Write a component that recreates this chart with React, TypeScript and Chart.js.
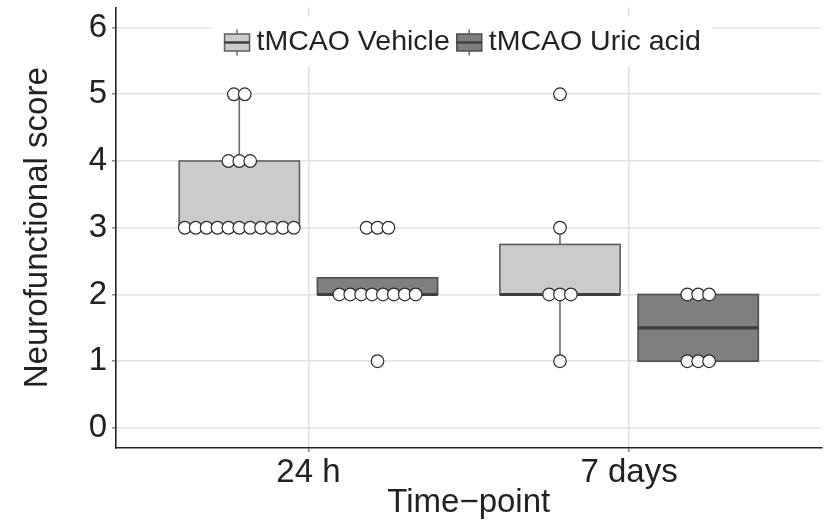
import React, { useEffect, useRef } from "react";
import { Chart, registerables } from "chart.js";

Chart.register(...registerables);

// ---- data ----
const categories = ["24 h", "7 days"];
const groupNames = ["tMCAO Vehicle", "tMCAO Uric acid"];
const yTickValues = [0, 1, 2, 3, 4, 5, 6];

const vehicle24h = [5, 5, 4, 4, 4, 3, 3, 3, 3, 3, 3, 3, 3, 3, 3, 3];
const uric24h = [3, 3, 3, 2, 2, 2, 2, 2, 2, 2, 2, 1];
const vehicle7d = [5, 3, 2, 2, 2, 1];
const uric7d = [2, 2, 2, 1, 1, 1];

const vehicleSeries = [vehicle24h, vehicle7d];
const uricSeries = [uric24h, uric7d];

// ---- styles / layout ----
const FONT = "'Liberation Sans', Arial, Helvetica, sans-serif";
const AXIS_FONT_SIZE = 33;
const LEGEND_FONT_SIZE = 28.5;
const GROUP_OFFSET = 0.2155;
const BOX_HALF = 0.1875;
const DOT_STEP = 0.034;
const boxFill = ["#cbcbcb", "#7f7f80"];
const boxStroke = ["#5e5e5e", "#4e4e4e"];
const medianColor = "#3f3f3f";
const whiskerColor = "#6a6a6a";

function quantile(sorted: number[], p: number) {
  const h = (sorted.length - 1) * p;
  const lo = Math.floor(h);
  const hi = Math.ceil(h);
  return sorted[lo] + (h - lo) * (sorted[hi] - sorted[lo]);
}

function boxStats(values: number[]) {
  const s = [...values].sort((a, b) => a - b);
  const q1 = quantile(s, 0.25);
  const med = quantile(s, 0.5);
  const q3 = quantile(s, 0.75);
  const iqr = q3 - q1;
  const inside = s.filter((v) => v >= q1 - 1.5 * iqr && v <= q3 + 1.5 * iqr);
  return { q1, med, q3, lo: Math.min(...inside), hi: Math.max(...inside) };
}

function dotPoints(values: number[], center: number) {
  const counts = new Map<number, number>();
  values.forEach((v) => counts.set(v, (counts.get(v) || 0) + 1));
  const pts: { x: number; y: number }[] = [];
  [...counts.keys()].sort((a, b) => a - b).forEach((v) => {
    const n = counts.get(v)!;
    for (let i = 0; i < n; i++) {
      pts.push({ x: center + (i - (n - 1) / 2) * DOT_STEP, y: v });
    }
  });
  return pts;
}

const allSeries = [vehicleSeries, uricSeries];
const groupOffsets = [-GROUP_OFFSET, GROUP_OFFSET];

const boxPlugin = {
  id: "boxes",
  beforeDatasetsDraw(chart: any) {
    const { ctx, scales } = chart;
    const xs = scales.x;
    const ys = scales.y;
    ctx.save();
    allSeries.forEach((series, g) => {
      series.forEach((vals, c) => {
        const st = boxStats(vals);
        const cx = c + 1 + groupOffsets[g];
        const px = xs.getPixelForValue(cx);
        const l = xs.getPixelForValue(cx - BOX_HALF);
        const r = xs.getPixelForValue(cx + BOX_HALF);
        const yq1 = ys.getPixelForValue(st.q1);
        const yq3 = ys.getPixelForValue(st.q3);
        // whiskers
        ctx.strokeStyle = whiskerColor;
        ctx.lineWidth = 1.6;
        if (st.hi > st.q3) {
          ctx.beginPath();
          ctx.moveTo(px, yq3);
          ctx.lineTo(px, ys.getPixelForValue(st.hi));
          ctx.stroke();
        }
        if (st.lo < st.q1) {
          ctx.beginPath();
          ctx.moveTo(px, yq1);
          ctx.lineTo(px, ys.getPixelForValue(st.lo));
          ctx.stroke();
        }
        // box
        ctx.fillStyle = boxFill[g];
        ctx.fillRect(l, yq3, r - l, yq1 - yq3);
        ctx.strokeStyle = boxStroke[g];
        ctx.lineWidth = 1.6;
        ctx.strokeRect(l, yq3, r - l, yq1 - yq3);
        // median
        const ym = ys.getPixelForValue(st.med);
        ctx.strokeStyle = medianColor;
        ctx.lineWidth = 3.2;
        ctx.beginPath();
        ctx.moveTo(l, ym);
        ctx.lineTo(r, ym);
        ctx.stroke();
      });
    });
    ctx.restore();
  },
};

const legendPlugin = {
  id: "insideLegend",
  afterDraw(chart: any) {
    const { ctx, chartArea } = chart;
    ctx.save();
    ctx.font = `${LEGEND_FONT_SIZE}px ${FONT}`;
    const iconW = 25;
    const gap = 7;
    const widths = groupNames.map((t) => ctx.measureText(t).width);
    const total = iconW * 2 + gap * 3 + widths[0] + widths[1];
    const cxMid = (chartArea.left + chartArea.right) / 2 - 6;
    const startX = cxMid - total / 2;
    const cy = chartArea.top + 35;
    ctx.fillStyle = "#ffffff";
    ctx.fillRect(startX - 13, cy - 26, total + 24, 50);
    let x = startX;
    groupNames.forEach((name, g) => {
      const mid = x + iconW / 2;
      ctx.strokeStyle = whiskerColor;
      ctx.lineWidth = 1.5;
      ctx.beginPath();
      ctx.moveTo(mid, cy - 13);
      ctx.lineTo(mid, cy + 13);
      ctx.stroke();
      ctx.fillStyle = boxFill[g];
      ctx.fillRect(x, cy - 8.5, iconW, 17);
      ctx.strokeStyle = boxStroke[g];
      ctx.lineWidth = 1.5;
      ctx.strokeRect(x, cy - 8.5, iconW, 17);
      ctx.strokeStyle = medianColor;
      ctx.lineWidth = 2.5;
      ctx.beginPath();
      ctx.moveTo(x, cy);
      ctx.lineTo(x + iconW, cy);
      ctx.stroke();
      x += iconW + gap;
      ctx.fillStyle = "#222222";
      ctx.textBaseline = "middle";
      ctx.textAlign = "left";
      ctx.fillText(name, x, cy);
      x += widths[g] + gap;
    });
    ctx.restore();
  },
};

export default function App() {
  const canvasRef = useRef<HTMLCanvasElement | null>(null);

  useEffect(() => {
    if (!canvasRef.current) return;
    const vehicleDots = vehicleSeries.flatMap((vals, c) => dotPoints(vals, c + 1 - GROUP_OFFSET));
    const uricDots = uricSeries.flatMap((vals, c) => dotPoints(vals, c + 1 + GROUP_OFFSET));

    const gridOpts = { color: "#e2e2e2", lineWidth: 1.6, tickLength: 4, tickColor: "#8a8a8a", tickWidth: 1.5 };
    const borderOpts = { color: "#222222", width: 1.6 };

    const chart = new Chart(canvasRef.current, {
      type: "scatter",
      data: {
        datasets: [
          {
            label: groupNames[0],
            data: vehicleDots,
            pointRadius: 6.3,
            pointBackgroundColor: "#ffffff",
            pointBorderColor: "#2a2a2a",
            pointBorderWidth: 1.2,
          },
          {
            label: groupNames[1],
            data: uricDots,
            pointRadius: 6.3,
            pointBackgroundColor: "#ffffff",
            pointBorderColor: "#2a2a2a",
            pointBorderWidth: 1.2,
          },
        ],
      },
      options: {
        responsive: false,
        animation: false,
        layout: { padding: { top: 5, right: 0, left: 0, bottom: 0 } },
        plugins: { legend: { display: false }, tooltip: { enabled: false } },
        scales: {
          x: {
            type: "linear",
            min: 0.4,
            max: 2.6,
            afterBuildTicks: (s: any) => {
              s.ticks = categories.map((_, i) => ({ value: i + 1 }));
            },
            afterFit: (s: any) => {
              s.height = 76;
              s.paddingLeft = 0;
              s.paddingRight = 0;
            },
            ticks: {
              callback: (_v: any, i: number) => categories[i],
              autoSkip: false,
              maxRotation: 0,
              color: "#222222",
              padding: 1,
              font: { family: FONT, size: AXIS_FONT_SIZE },
            },
            grid: gridOpts,
            border: borderOpts,
            title: {
              display: true,
              text: "Time\u2212point",
              color: "#222222",
              font: { family: FONT, size: AXIS_FONT_SIZE },
              padding: { top: 0, bottom: 1.5 },
            },
          },
          y: {
            type: "linear",
            min: -0.3,
            max: 6.3,
            afterBuildTicks: (s: any) => {
              s.ticks = yTickValues.map((v) => ({ value: v }));
            },
            afterFit: (s: any) => {
              s.width = 116;
              s.paddingTop = 0;
              s.paddingBottom = 0;
            },
            ticks: {
              color: "#222222",
              padding: 5,
              font: { family: FONT, size: AXIS_FONT_SIZE },
            },
            grid: gridOpts,
            border: borderOpts,
            title: {
              display: true,
              text: "Neurofunctional score",
              color: "#222222",
              font: { family: FONT, size: AXIS_FONT_SIZE },
              padding: { top: 18.5, bottom: 0 },
            },
          },
        },
      },
      plugins: [boxPlugin, legendPlugin],
    });
    return () => chart.destroy();
  }, []);

  return (
    <div style={{ position: "absolute", left: 0, top: 0, width: 829, height: 524, background: "#fff" }}>
      <canvas ref={canvasRef} width={829} height={524} />
    </div>
  );
}
